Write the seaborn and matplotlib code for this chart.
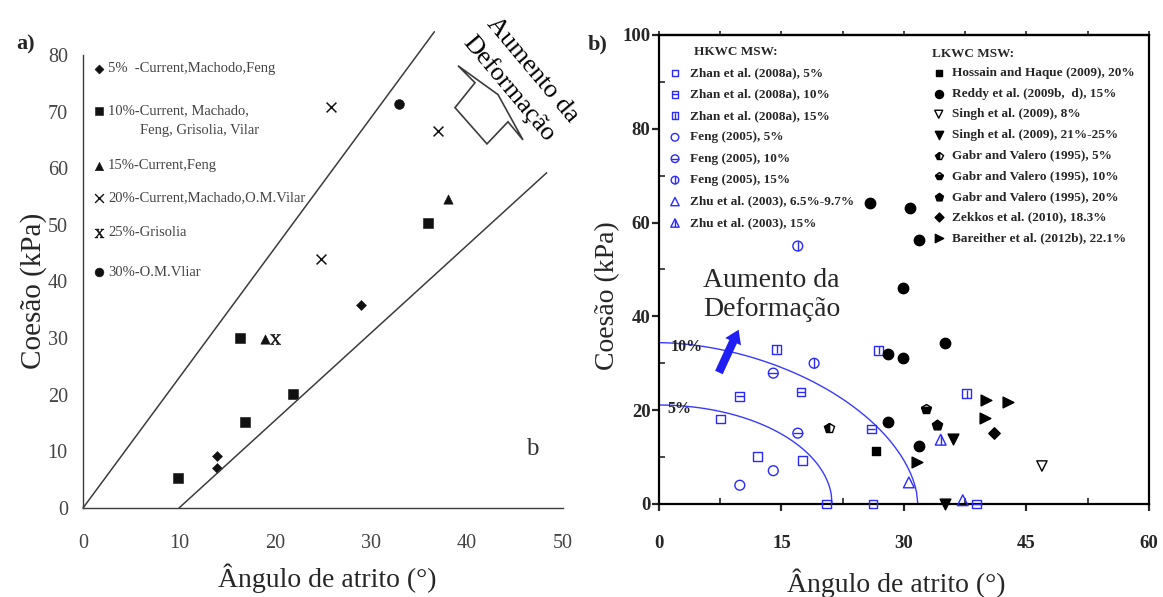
import numpy as np
import matplotlib
matplotlib.use("Agg")
import matplotlib.pyplot as plt
import seaborn as sns
from matplotlib.patches import Polygon, FancyArrowPatch
from matplotlib.ticker import MultipleLocator

sns.set_style("white")
plt.rcParams["font.family"] = ["Liberation Serif", "DejaVu Serif"]
plt.rcParams["mathtext.fontset"] = "stix"

# ---------------- (a) friction angle vs cohesion, by strain level ----------------
a_labels = ["5%  -Current,Machodo,Feng", "10%-Current, Machado,", "15%-Current,Feng",
            "20%-Current,Machado,O.M.Vilar", "25%-Grisolia", "30%-O.M.Vliar"]
a_label_cont = "Feng, Grisolia, Vilar"
a5_x = [14.0, 14.0, 29.0]
a5_y = [9.2, 7.0, 35.9]
a10_x = [9.9, 16.3, 16.9, 21.9, 35.9]
a10_y = [5.3, 30.0, 15.2, 20.1, 50.4]
a15_x = [19.0, 38.0]
a15_y = [29.9, 54.6]
a20_x = [24.8, 25.8, 37.0]
a20_y = [44.0, 70.8, 66.6]
a25_x = [20.0]
a25_y = [29.9]
a30_x = [32.9]
a30_y = [71.3]
# envelope lines
bound_upper_x = [0.0, 36.6]
bound_upper_y = [0.0, 84.1]
bound_lower_x = [10.0, 48.3]
bound_lower_y = [0.0, 59.2]

# ---------------- (b) HKWC / LKWC MSW ----------------
zhan5_x = [7.5, 12.1, 17.6, 20.5, 26.2]
zhan5_y = [18.1, 10.1, 9.2, 0.0, 0.0]
zhan10_x = [9.9, 17.4, 26.0, 38.9]
zhan10_y = [23.0, 23.9, 16.0, 0.0]
zhan15_x = [14.4, 26.9, 37.7]
zhan15_y = [33.0, 32.8, 23.5]
feng5_x = [9.9, 14.0]
feng5_y = [4.0, 7.1]
feng10_x = [14.0, 17.0]
feng10_y = [27.9, 15.1]
feng15_x = [19.0, 17.0]
feng15_y = [30.0, 55.0]
zhu_a_x = [30.6, 37.2]
zhu_a_y = [4.6, 0.8]
zhu15_x = [34.5]
zhu15_y = [13.7]

hossain_x = [26.6]
hossain_y = [11.3]
reddy_x = [25.9, 30.7, 31.8, 29.9, 35.0, 28.0, 29.9, 28.0, 31.9]
reddy_y = [64.2, 63.1, 56.3, 46.1, 34.3, 31.9, 31.2, 17.5, 12.4]
singh8_x = [46.9]
singh8_y = [8.1]
singh21_x = [36.0, 35.0]
singh21_y = [13.9, 0.0]
gabr5_x = [20.8]
gabr5_y = [16.2]
gabr10_x = [32.7]
gabr10_y = [20.2]
gabr20_x = [34.0]
gabr20_y = [16.8]
zekkos_x = [41.0]
zekkos_y = [15.1]
bareither_x = [40.0, 42.7, 39.9, 31.6]
bareither_y = [22.2, 21.7, 18.3, 9.0]

# strength envelopes for 5% and 10% strain (intercepts on each axis)
env_labels = ["5%", "10%"]
env_c0 = [21.1, 34.4]
env_phi0 = [21.2, 31.7]
env_power = [2.0, 1.8]

hk_series = [
    ("Zhan et al. (2008a), 5%", zhan5_x, zhan5_y, "zhan5"),
    ("Zhan et al. (2008a), 10%", zhan10_x, zhan10_y, "zhan10"),
    ("Zhan et al. (2008a), 15%", zhan15_x, zhan15_y, "zhan15"),
    ("Feng (2005), 5%", feng5_x, feng5_y, "feng5"),
    ("Feng (2005), 10%", feng10_x, feng10_y, "feng10"),
    ("Feng (2005), 15%", feng15_x, feng15_y, "feng15"),
    ("Zhu et al. (2003), 6.5%-9.7%", zhu_a_x, zhu_a_y, "zhu_a"),
    ("Zhu et al. (2003), 15%", zhu15_x, zhu15_y, "zhu15"),
]
lk_series = [
    ("Hossain and Haque (2009), 20%", hossain_x, hossain_y, "hossain"),
    ("Reddy et al. (2009b,  d), 15%", reddy_x, reddy_y, "reddy"),
    ("Singh et al. (2009), 8%", singh8_x, singh8_y, "singh8"),
    ("Singh et al. (2009), 21%-25%", singh21_x, singh21_y, "singh21"),
    ("Gabr and Valero (1995), 5%", gabr5_x, gabr5_y, "gabr5"),
    ("Gabr and Valero (1995), 10%", gabr10_x, gabr10_y, "gabr10"),
    ("Gabr and Valero (1995), 20%", gabr20_x, gabr20_y, "gabr20"),
    ("Zekkos et al. (2010), 18.3%", zekkos_x, zekkos_y, "zekkos"),
    ("Bareither et al. (2012b), 22.1%", bareither_x, bareither_y, "bareither"),
]

BLUE = "#2a2aff"
INK = "#111111"
GRAY = "#3c3c3c"

styles = {
    "zhan5": dict(marker="s", s=40, face="none", edge=BLUE),
    "zhan10": dict(marker="s", s=40, face="none", edge=BLUE, inner="_"),
    "zhan15": dict(marker="s", s=40, face="none", edge=BLUE, inner="|"),
    "feng5": dict(marker="o", s=50, face="none", edge=BLUE),
    "feng10": dict(marker="o", s=50, face="none", edge=BLUE, inner="_"),
    "feng15": dict(marker="o", s=50, face="none", edge=BLUE, inner="|"),
    "zhu_a": dict(marker="^", s=60, face="none", edge=BLUE),
    "zhu15": dict(marker="^", s=60, face="none", edge=BLUE, inner="|"),
    "hossain": dict(marker="s", s=34, face="black", edge="black"),
    "reddy": dict(marker="o", s=56, face="black", edge="black"),
    "singh8": dict(marker="v", s=55, face="none", edge="black"),
    "singh21": dict(marker="v", s=60, face="black", edge="black"),
    "gabr5": dict(marker="p", s=55, face="black", edge="black", fill="left"),
    "gabr10": dict(marker="p", s=55, face="black", edge="black", fill="bottom"),
    "gabr20": dict(marker="p", s=60, face="black", edge="black"),
    "zekkos": dict(marker="D", s=34, face="black", edge="black"),
    "bareither": dict(marker=">", s=60, face="black", edge="black"),
}


def draw_points(ax, x, y, st, scale=1.0, transform=None):
    s = st["s"] * scale
    kw = dict(clip_on=False, zorder=4)
    if transform is not None:
        kw["transform"] = transform
    fill = st.get("fill", "full")
    if fill in ("left", "bottom"):
        ax.plot(x, y, ls="none", marker=st["marker"], ms=np.sqrt(s), fillstyle=fill,
                mfc=st["face"], mec=st["edge"], mew=1.0, **kw)
    elif transform is None:
        sns.scatterplot(x=x, y=y, marker=st["marker"], s=s, facecolor=st["face"],
                        edgecolor=st["edge"], linewidth=1.0, ax=ax, **kw)
    else:
        ax.scatter(x, y, marker=st["marker"], s=s, facecolors=st["face"],
                   edgecolors=st["edge"], linewidths=1.0, **kw)
    if st.get("inner"):
        ax.scatter(x, y, marker=st["inner"], s=s, c=st["edge"], linewidths=1.0, **kw)


fig = plt.figure(figsize=(11.63, 5.97), dpi=100)
axa = fig.add_axes([0.0714, 0.1491, 0.4127, 0.7588])
axb = fig.add_axes([0.5666, 0.1558, 0.4213, 0.7856])

# ======================= panel (a) =======================
axa.set_xlim(0, 50)
axa.set_ylim(0, 80)
axa.plot(bound_upper_x, bound_upper_y, color=GRAY, lw=1.1, clip_on=False)
axa.plot(bound_lower_x, bound_lower_y, color=GRAY, lw=1.1, clip_on=False)

a_styles = [
    dict(marker="D", s=26),
    dict(marker="s", s=42),
    dict(marker="^", s=45),
    dict(marker="x", s=50),
    dict(marker="$\\mathrm{X}$", s=55),
    dict(marker="o", s=50),
]
a_sets = [(a5_x, a5_y), (a10_x, a10_y), (a15_x, a15_y), (a20_x, a20_y),
          (a25_x, a25_y), (a30_x, a30_y)]
for (xs, ys), st in zip(a_sets, a_styles):
    if st["marker"] == "x":
        sns.scatterplot(x=xs, y=ys, marker="x", s=st["s"], color=INK, edgecolor=None,
                        linewidth=1.1, ax=axa, clip_on=False)
    else:
        sns.scatterplot(x=xs, y=ys, marker=st["marker"], s=st["s"], color=INK,
                        edgecolor=INK, linewidth=0.4, ax=axa, clip_on=False)

# in-plot key
a_key_y = [77.6, 70.1, 60.4, 54.8, 48.6, 41.6]
for lab, ky, st in zip(a_labels, a_key_y, a_styles):
    if st["marker"] == "x":
        axa.scatter([1.7], [ky], marker="x", s=st["s"] * 0.8, c=INK, linewidths=1.0)
    else:
        axa.scatter([1.7], [ky], marker=st["marker"], s=st["s"] * 0.8, c=INK,
                    edgecolors=INK, linewidths=0.4)
    axa.text(2.6, ky, lab, fontsize=10.5, color="#444444", ha="left", va="center")
axa.text(5.9, 66.6, a_label_cont, fontsize=10.5, color="#444444", ha="left", va="center")

# "increasing strain" note with outlined arrow
axa.text(46.8, 77.4, "Aumento da", rotation=-50, rotation_mode="anchor", ha="center",
         va="center", fontsize=19, color="black", clip_on=False)
axa.text(44.4, 74.0, "Deformação", rotation=-50, rotation_mode="anchor", ha="center",
         va="center", fontsize=19, color="black", clip_on=False)
arrow_outline = [(39.06, 78.1), (43.23, 73.0), (45.83, 65.0), (44.27, 68.2),
                 (42.08, 64.3), (38.75, 70.7), (40.83, 75.1)]
axa.add_patch(Polygon(arrow_outline, closed=True, facecolor="white", edgecolor=GRAY,
                      lw=1.2, clip_on=False))
axa.text(46.8, 10.4, "b", fontsize=18, color="#333333", ha="center", va="center")

for side in ["top", "right"]:
    axa.spines[side].set_visible(False)
for side in ["left", "bottom"]:
    axa.spines[side].set_color(GRAY)
    axa.spines[side].set_linewidth(1.0)
axa.set_xticks(range(0, 51, 10))
axa.set_yticks(range(0, 81, 10))
axa.tick_params(direction="in", length=6, width=1.0, color=GRAY, labelcolor="#444444",
                labelsize=14.5)
axa.tick_params(axis="x", pad=19)
axa.tick_params(axis="y", pad=11)
axa.set_xlabel("Ângulo de atrito (°)", fontsize=20, va="center")
axa.set_ylabel("Coesão (kPa)", fontsize=21, va="center")
axa.xaxis.set_label_coords(0.508, -0.155)
axa.yaxis.set_label_coords(-0.104, 0.48)

# ======================= panel (b) =======================
axb.set_xlim(0, 60)
axb.set_ylim(0, 100)

for lab, c0, phi0, p in zip(env_labels, env_c0, env_phi0, env_power):
    phi = np.linspace(0, phi0, 200)
    coh = c0 * np.clip(1 - (phi / phi0) ** p, 0, None) ** (1 / p)
    axb.plot(phi, coh, color="#3a3aff", lw=1.0, zorder=2)
    axb.text(1.4 if lab == "10%" else 1.0, c0 - 0.9, lab, fontsize=11.5,
             fontweight="bold", ha="left", va="center", color="#222222")

for lab, xs, ys, key in hk_series + lk_series:
    draw_points(axb, xs, ys, styles[key])

# strain-direction arrow and note
axb.add_patch(FancyArrowPatch((7.2, 27.5), (9.9, 37.7),
                              arrowstyle="simple,head_width=1.25,head_length=0.95,tail_width=0.6",
                              mutation_scale=10, color="#1f1ff5", lw=0, zorder=5))
axb.text(13.8, 44.6, "Aumento da\nDeformação", fontsize=20, ha="center", va="center",
         linespacing=1.2)

# keys
hk_key_y = [0.919 - 0.0457 * i for i in range(len(hk_series))]
axb.text(0.0714, 0.964, "HKWC MSW:", transform=axb.transAxes, fontsize=9.5,
         fontweight="bold", ha="left", va="center")
for (lab, _, _, key), ky in zip(hk_series, hk_key_y):
    draw_points(axb, [0.0327], [ky], styles[key], scale=0.6, transform=axb.transAxes)
    axb.text(0.0633, ky, lab, transform=axb.transAxes, fontsize=9.5, fontweight="bold",
             ha="left", va="center")

lk_key_y = [0.919 - 0.0440 * i for i in range(len(lk_series))]
axb.text(0.557, 0.960, "LKWC MSW:", transform=axb.transAxes, fontsize=9.5,
         fontweight="bold", ha="left", va="center")
for (lab, _, _, key), ky in zip(lk_series, lk_key_y):
    draw_points(axb, [0.571], [ky], styles[key], scale=0.6, transform=axb.transAxes)
    axb.text(0.598, ky, lab, transform=axb.transAxes, fontsize=9.5, fontweight="bold",
             ha="left", va="center")

for sp in axb.spines.values():
    sp.set_linewidth(1.6)
    sp.set_color("black")
axb.xaxis.set_major_locator(MultipleLocator(15))
axb.xaxis.set_minor_locator(MultipleLocator(7.5))
axb.yaxis.set_major_locator(MultipleLocator(20))
axb.yaxis.set_minor_locator(MultipleLocator(10))
axb.tick_params(which="major", direction="out", length=5, width=1.6, labelsize=13.5,
                bottom=True, left=True)
axb.tick_params(which="minor", direction="in", length=4, width=1.2, bottom=True, left=True)
axb.tick_params(axis="x", which="major", pad=17)
axb.tick_params(axis="y", which="major", pad=1)
top = axb.secondary_xaxis("top")
top.set_xticks(np.arange(0, 60.1, 7.5))
top.set_xticklabels([])
top.tick_params(direction="out", length=3, width=1.2)
top.spines["top"].set_linewidth(1.6)
for lab in axb.get_xticklabels() + axb.get_yticklabels():
    lab.set_fontweight("bold")
axb.set_xlabel("Ângulo de atrito (°)", fontsize=20, va="center")
axb.set_ylabel("Coesão (kPa)", fontsize=20, va="center")
axb.xaxis.set_label_coords(0.484, -0.168)
axb.yaxis.set_label_coords(-0.104, 0.445)

fig.text(0.022, 0.926, "a)", fontsize=16, fontweight="bold", ha="center", va="center")
fig.text(0.514, 0.926, "b)", fontsize=16, fontweight="bold", ha="center", va="center")

fig.savefig("out.png", dpi=100)
